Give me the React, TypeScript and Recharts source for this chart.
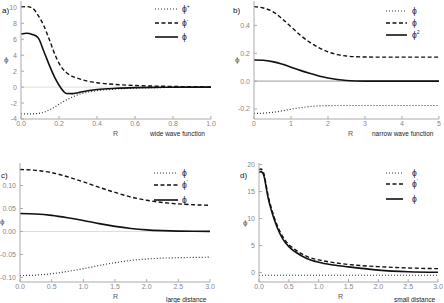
import { LineChart, Line, XAxis, YAxis, ReferenceLine } from "recharts";

// panel a: wide wave function
const rA = [0, 0.03, 0.06, 0.09, 0.12, 0.15, 0.18, 0.21, 0.24, 0.27, 0.3, 0.35, 0.4, 0.5, 0.6, 0.7, 0.8, 0.9, 1.0];
const aPlus = [-3.35, -3.35, -3.35, -3.3, -3.15, -2.85, -2.45, -2.0, -1.6, -1.25, -0.95, -0.65, -0.45, -0.25, -0.13, -0.07, -0.04, -0.02, -0.01];
const aMinus = [10.05, 10.1, 9.9, 9.0, 7.7, 5.9, 4.0, 2.6, 1.8, 1.35, 1.1, 0.75, 0.55, 0.33, 0.2, 0.13, 0.08, 0.05, 0.03];
const aPhi = [6.65, 6.75, 6.6, 6.2, 4.5, 2.7, 1.1, -0.1, -0.8, -0.82, -0.7, -0.45, -0.3, -0.15, -0.07, -0.03, -0.01, 0, 0];

// panel b: narrow wave function
const rB = [0, 0.25, 0.5, 0.75, 1, 1.25, 1.5, 1.75, 2, 2.25, 2.5, 2.75, 3, 3.5, 4, 4.5, 5];
const bDot = [-0.232, -0.23, -0.224, -0.214, -0.202, -0.191, -0.183, -0.178, -0.176, -0.175, -0.175, -0.175, -0.175, -0.175, -0.175, -0.175, -0.175];
const bDash = [0.535, 0.525, 0.5, 0.45, 0.39, 0.33, 0.28, 0.24, 0.21, 0.19, 0.18, 0.175, 0.173, 0.172, 0.172, 0.172, 0.172];
const bSolid = [0.152, 0.15, 0.14, 0.123, 0.1, 0.077, 0.056, 0.037, 0.022, 0.011, 0.004, 0.001, 0, 0, 0, 0, 0];

// panel c: large distance
const rC = [0, 0.25, 0.5, 0.75, 1, 1.25, 1.5, 1.75, 2, 2.25, 2.5, 2.75, 3];
const cDot = [-0.096, -0.095, -0.092, -0.087, -0.081, -0.074, -0.068, -0.063, -0.06, -0.058, -0.057, -0.0565, -0.056];
const cDash = [0.135, 0.133, 0.128, 0.119, 0.108, 0.096, 0.085, 0.075, 0.068, 0.063, 0.06, 0.058, 0.057];
const cSolid = [0.039, 0.038, 0.035, 0.03, 0.024, 0.017, 0.011, 0.0065, 0.0035, 0.0018, 0.0008, 0.0003, 0.0001];

// panel d: small distance
const rD = [0, 0.03, 0.06, 0.09, 0.12, 0.15, 0.2, 0.25, 0.3, 0.4, 0.5, 0.6, 0.8, 1.0, 1.25, 1.5, 2.0, 2.5, 3.0];
const dDot = [-0.5, -0.5, -0.5, -0.5, -0.5, -0.5, -0.5, -0.5, -0.5, -0.5, -0.5, -0.5, -0.5, -0.5, -0.5, -0.5, -0.5, -0.5, -0.5];
const dDash = [19.0, 19.2, 18.9, 18.0, 16.2, 14.4, 12.2, 10.4, 8.9, 6.6, 5.2, 4.3, 3.0, 2.35, 1.85, 1.5, 1.1, 0.85, 0.72];
const dSolid = [18.6, 18.7, 18.5, 17.6, 15.8, 14.0, 11.8, 10.0, 8.5, 6.2, 4.8, 3.9, 2.6, 1.9, 1.4, 1.05, 0.45, 0.15, 0.05];

const aXTicks = [0, 0.2, 0.4, 0.6, 0.8, 1.0];
const aYTicks = [-4, -2, 0, 2, 4, 6, 8, 10];
const bXTicks = [0, 1, 2, 3, 4, 5];
const bYTicks = [-0.2, 0, 0.2, 0.4];
const cXTicks = [0, 0.5, 1, 1.5, 2, 2.5, 3];
const cYTicks = [-0.1, -0.05, 0, 0.05, 0.1];
const dXTicks = [0, 0.5, 1, 1.5, 2, 2.5, 3];
const dYTicks = [0, 5, 10, 15, 20];

const FONT = "'Liberation Sans', Arial, sans-serif";
const FRAME = "#aaa";
const tickStyle = { fontSize: 7, fill: "#888", fontFamily: FONT };
const frameLine = { stroke: FRAME, strokeWidth: 1 };

const dotted = { stroke: "#333", strokeWidth: 1.2, strokeDasharray: "1 2" };
const dashed = { stroke: "#111", strokeWidth: 1.4, strokeDasharray: "4 2.5" };
const solid = { stroke: "#111", strokeWidth: 1.6 };

const zip = (r: number[], s1: number[], s2: number[], s3: number[]) =>
  r.map((x, i) => ({ r: x, s1: s1[i], s2: s2[i], s3: s3[i] }));

type PanelProps = {
  left: number;
  top: number;
  height: number;
  margin: { top: number; right: number; bottom: number; left: number };
  yWidth: number;
  xHeight: number;
  data: any[];
  xDomain: [number, number];
  yDomain: [number, number];
  xTicks: number[];
  yTicks: number[];
  xFmt: (v: number) => string;
  yFmt: (v: number) => string;
  zero?: string;
};

const Panel = (p: PanelProps) => (
  <div style={{ position: "absolute", left: p.left, top: p.top }}>
    <LineChart width={222} height={p.height} data={p.data} margin={p.margin}>
      <XAxis
        dataKey="r"
        type="number"
        domain={p.xDomain}
        ticks={p.xTicks}
        tickFormatter={p.xFmt}
        allowDataOverflow
        height={p.xHeight}
        tick={tickStyle}
        tickSize={-3}
        tickMargin={5}
        axisLine={frameLine}
        tickLine={frameLine}
        interval={0}
      />
      <XAxis
        xAxisId="top"
        orientation="top"
        dataKey="r"
        type="number"
        domain={p.xDomain}
        ticks={p.xTicks}
        height={0}
        tick={false}
        tickSize={-3}
        axisLine={frameLine}
        tickLine={frameLine}
      />
      <YAxis
        type="number"
        domain={p.yDomain}
        ticks={p.yTicks}
        tickFormatter={p.yFmt}
        allowDataOverflow
        width={p.yWidth}
        tick={tickStyle}
        tickSize={-3}
        tickMargin={7}
        axisLine={frameLine}
        tickLine={frameLine}
        interval={0}
      />
      <YAxis
        yAxisId="right"
        orientation="right"
        type="number"
        domain={p.yDomain}
        ticks={p.yTicks}
        width={0}
        tick={false}
        tickSize={-3}
        axisLine={frameLine}
        tickLine={frameLine}
      />
      {p.zero && <ReferenceLine y={0} stroke={p.zero} strokeWidth={1} />}
      <Line dataKey="s1" type="monotone" dot={false} isAnimationActive={false} {...dotted} />
      <Line dataKey="s2" type="monotone" dot={false} isAnimationActive={false} {...dashed} />
      <Line dataKey="s3" type="monotone" dot={false} isAnimationActive={false} {...solid} />
    </LineChart>
  </div>
);

type LegendProps = { x1: number; x2: number; ys: number[]; lx: number; sups: string[] };

const LegendBlock = ({ x1, x2, ys, lx, sups }: LegendProps) => (
  <g>
    {[dotted, dashed, solid].map((st, i) => (
      <g key={i}>
        <line x1={x1} x2={x2} y1={ys[i]} y2={ys[i]} {...st} />
        <text x={lx} y={ys[i] + 3} fontSize={8.5} fontFamily={FONT} fill="#222">
          ϕ
          {sups[i] && (
            <tspan dy={-4} fontSize={5}>
              {sups[i]}
            </tspan>
          )}
        </text>
      </g>
    ))}
  </g>
);

const fmt0 = (v: number) => String(v);
const fmt1 = (v: number) => v.toFixed(1);
const fmt2 = (v: number) => v.toFixed(2);

export default function App() {
  const label = { fontFamily: FONT, fill: "#555" };
  return (
    <div style={{ position: "absolute", left: 0, top: 0, width: 444, height: 303, background: "#fff" }}>
      <Panel
        left={0}
        top={0}
        height={150}
        margin={{ top: 1, right: 11, bottom: 0, left: 0 }}
        yWidth={21}
        xHeight={31}
        data={zip(rA, aPlus, aMinus, aPhi)}
        xDomain={[0, 1]}
        yDomain={[-4, 10.8]}
        xTicks={aXTicks}
        yTicks={aYTicks}
        xFmt={fmt1}
        yFmt={fmt0}
        zero="#ddd"
      />
      <Panel
        left={222}
        top={0}
        height={150}
        margin={{ top: 1, right: 5, bottom: 0, left: 0 }}
        yWidth={32}
        xHeight={31}
        data={zip(rB, bDot, bDash, bSolid)}
        xDomain={[0, 5]}
        yDomain={[-0.272, 0.575]}
        xTicks={bXTicks}
        yTicks={bYTicks}
        xFmt={fmt0}
        yFmt={fmt1}
        zero="#999"
      />
      <Panel
        left={0}
        top={150}
        height={153}
        margin={{ top: 13, right: 12, bottom: 0, left: 0 }}
        yWidth={20}
        xHeight={21}
        data={zip(rC, cDot, cDash, cSolid)}
        xDomain={[0, 3]}
        yDomain={[-0.11, 0.149]}
        xTicks={cXTicks}
        yTicks={cYTicks}
        xFmt={fmt1}
        yFmt={fmt2}
        zero="#ddd"
      />
      <Panel
        left={222}
        top={150}
        height={153}
        margin={{ top: 13, right: 6, bottom: 0, left: 0 }}
        yWidth={37}
        xHeight={21}
        data={zip(rD, dDot, dDash, dSolid)}
        xDomain={[0, 3]}
        yDomain={[-1.75, 20.3]}
        xTicks={dXTicks}
        yTicks={dYTicks}
        xFmt={fmt1}
        yFmt={fmt0}
      />
      <svg
        width={444}
        height={303}
        style={{ position: "absolute", left: 0, top: 0, pointerEvents: "none" }}
      >
        <text x={2} y={13} fontSize={8} fontFamily={FONT} fill="#111">a)</text>
        <text x={233} y={13} fontSize={8} fontFamily={FONT} fill="#111">b)</text>
        <text x={1} y={178} fontSize={8} fontFamily={FONT} fill="#111">c)</text>
        <text x={240} y={178} fontSize={8} fontFamily={FONT} fill="#111">d)</text>

        <text x={4} y={62} fontSize={8} {...label}>ϕ</text>
        <text x={235} y={62} fontSize={8} {...label}>ϕ</text>
        <text x={0} y={224} fontSize={8} {...label}>ϕ</text>
        <text x={243} y={225} fontSize={8} {...label}>ϕ</text>

        <text x={113} y={136} fontSize={7} {...label}>R</text>
        <text x={348} y={136} fontSize={7} {...label}>R</text>
        <text x={113} y={299} fontSize={7} {...label}>R</text>
        <text x={338} y={299} fontSize={7} {...label}>R</text>

        <text x={150} y={136} fontSize={6.5} fontFamily={FONT} fill="#222">wide wave function</text>
        <text x={372} y={136} fontSize={6.5} fontFamily={FONT} fill="#222">narrow wave function</text>
        <text x={166} y={302} fontSize={6.5} fontFamily={FONT} fill="#222">large distance</text>
        <text x={394} y={302} fontSize={6.5} fontFamily={FONT} fill="#222">small distance</text>

        <LegendBlock x1={155} x2={178} ys={[9, 23, 37]} lx={182} sups={["+", "-", ""]} />
        <LegendBlock x1={386} x2={407} ys={[11, 23, 35]} lx={412} sups={["", "", "2"]} />
        <LegendBlock x1={154} x2={178} ys={[173, 185, 200]} lx={182} sups={["", "'", ""]} />
        <LegendBlock x1={386} x2={403} ys={[173, 184, 199]} lx={412} sups={["", "'", ""]} />
      </svg>
    </div>
  );
}
